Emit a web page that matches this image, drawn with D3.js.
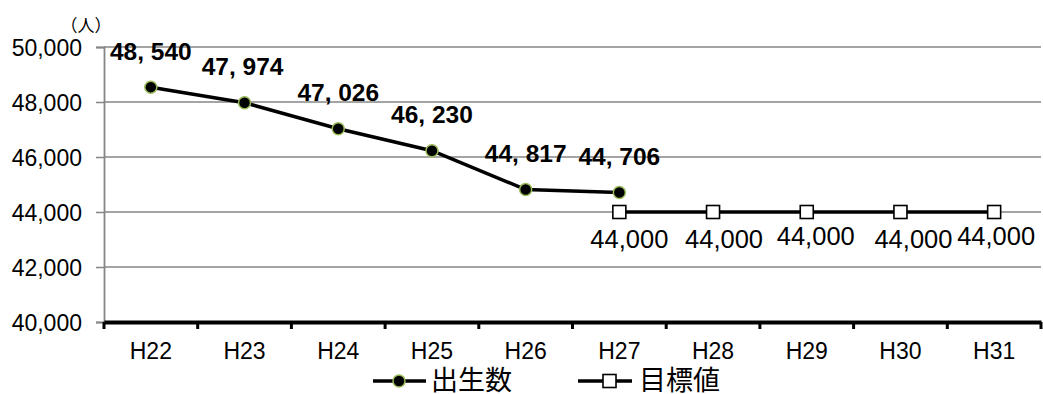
<!DOCTYPE html>
<html>
<head>
<meta charset="utf-8">
<script src="https://cdn.jsdelivr.net/npm/d3@7"></script>
<style>
  body { margin: 0; background: #fff; }
  svg { display: block; }
</style>
</head>
<body>
<svg id="chart" width="1043" height="394"></svg>
<script>
// Fiscal years (Heisei era)
const years = ["H22", "H23", "H24", "H25", "H26", "H27", "H28", "H29", "H30", "H31"];
// Actual births
const birthYears = ["H22", "H23", "H24", "H25", "H26", "H27"];
const births = [48540, 47974, 47026, 46230, 44817, 44706];
// Target values
const targetYears = ["H27", "H28", "H29", "H30", "H31"];
const targets = [44000, 44000, 44000, 44000, 44000];
// Y axis ticks
const yTicks = [40000, 42000, 44000, 46000, 48000, 50000];
const seriesNames = ["出生数", "目標値"];

const svg = d3.select("#chart");
const plotL = 104, plotR = 1041, plotT = 47, plotB = 322;
const latin = "Liberation Sans, Arial, sans-serif";
const cjk = "Noto Sans CJK JP, sans-serif";

const x = d3.scaleBand().domain(years).range([plotL, plotR]);
const y = d3.scaleLinear().domain([40000, 50000]).range([plotB, plotT]);
const cx = d => x(d) + x.bandwidth() / 2;
const fmt = d3.format(",");

// Horizontal gridlines
svg.append("g").selectAll("line").data(yTicks.filter(t => t > 40000)).join("line")
  .attr("x1", plotL).attr("x2", plotR)
  .attr("y1", d => y(d)).attr("y2", d => y(d))
  .attr("stroke", "#868686").attr("stroke-width", 1.5);

// Y axis
const yAxis = svg.append("g").attr("transform", `translate(${plotL},0)`)
  .call(d3.axisLeft(y).tickValues(yTicks).tickFormat(fmt).tickSize(8).tickPadding(14));
yAxis.attr("font-size", null).attr("font-family", null);
yAxis.select(".domain").attr("stroke", "#868686").attr("stroke-width", 1.8);
yAxis.selectAll(".tick line").attr("stroke", "#868686").attr("stroke-width", 1.5);
yAxis.selectAll("text").attr("font-family", latin)
  .attr("font-size", 23).attr("fill", "#000").attr("dy", "0.36em");

// X axis
const xAxis = svg.append("g").attr("transform", `translate(0,${plotB})`)
  .call(d3.axisBottom(x).tickSize(0).tickPadding(0));
xAxis.attr("font-size", null).attr("font-family", null);
xAxis.select(".domain").attr("stroke", "#000").attr("stroke-width", 4);
xAxis.selectAll("text").attr("font-family", latin)
  .attr("font-size", 23).attr("fill", "#000").attr("y", 37).attr("dy", null);
// Category separators
svg.append("g").selectAll("line").data(d3.range(years.length + 1)).join("line")
  .attr("x1", i => plotL + i * x.bandwidth()).attr("x2", i => plotL + i * x.bandwidth())
  .attr("y1", plotB).attr("y2", plotB + 7)
  .attr("stroke", "#000").attr("stroke-width", 3);

// Unit label
svg.append("text").attr("x", 86).attr("y", 32).attr("text-anchor", "middle")
  .attr("font-family", cjk).attr("font-size", 17)
  .text("（人）");

// Target line
const lineT = d3.line().x((d, i) => cx(targetYears[i])).y(d => y(d));
svg.append("path").datum(targets).attr("d", lineT)
  .attr("fill", "none").attr("stroke", "#000").attr("stroke-width", 3.5);
svg.append("g").selectAll("rect").data(targets).join("rect")
  .attr("x", (d, i) => cx(targetYears[i]) - 6.5).attr("y", d => y(d) - 6.5)
  .attr("width", 13).attr("height", 13)
  .attr("fill", "#fff").attr("stroke", "#000").attr("stroke-width", 1.6);

// Births line
const lineB = d3.line().x((d, i) => cx(birthYears[i])).y(d => y(d));
svg.append("path").datum(births).attr("d", lineB)
  .attr("fill", "none").attr("stroke", "#000").attr("stroke-width", 3.5);
svg.append("g").selectAll("circle").data(births).join("circle")
  .attr("cx", (d, i) => cx(birthYears[i])).attr("cy", d => y(d)).attr("r", 6)
  .attr("fill", "#000").attr("stroke", "#9bbb59").attr("stroke-width", 1.5);

// Births value labels
const bLabelDx = [0, -2, 0, 0, 0, 0];
svg.append("g").selectAll("text").data(births).join("text")
  .attr("x", (d, i) => cx(birthYears[i]) + bLabelDx[i])
  .attr("y", d => y(d) - 27.5)
  .attr("text-anchor", "middle")
  .attr("font-family", latin)
  .attr("font-weight", "bold").attr("font-size", 24.5)
  .text(d => fmt(d).replace(",", ", "));

// Target value labels
const tLabelDx = [10, 11, 9, 13, 2];
const tLabelDy = [36, 36, 33, 36, 33];
svg.append("g").selectAll("text").data(targets).join("text")
  .attr("x", (d, i) => cx(targetYears[i]) + tLabelDx[i])
  .attr("y", (d, i) => y(d) + tLabelDy[i])
  .attr("text-anchor", "middle")
  .attr("font-family", latin)
  .attr("font-size", 25.5)
  .text(d => fmt(d));

// Legend
const legend = svg.append("g").attr("transform", "translate(0,381)");
const lg0 = legend.append("g").attr("transform", "translate(373,0)");
lg0.append("line").attr("x1", 0).attr("x2", 53).attr("stroke", "#000").attr("stroke-width", 3.5);
lg0.append("circle").attr("cx", 26).attr("r", 6).attr("fill", "#000").attr("stroke", "#9bbb59").attr("stroke-width", 1.5);
lg0.append("text").attr("x", 58).attr("y", 9).attr("font-family", cjk)
  .attr("font-size", 27).text(seriesNames[0]);
const lg1 = legend.append("g").attr("transform", "translate(578,0)");
lg1.append("line").attr("x1", 0).attr("x2", 54).attr("stroke", "#000").attr("stroke-width", 3.5);
lg1.append("rect").attr("x", 25).attr("y", -6.5).attr("width", 13).attr("height", 13)
  .attr("fill", "#fff").attr("stroke", "#000").attr("stroke-width", 1.6);
lg1.append("text").attr("x", 61).attr("y", 9).attr("font-family", cjk)
  .attr("font-size", 27).text(seriesNames[1]);
</script>
</body>
</html>
